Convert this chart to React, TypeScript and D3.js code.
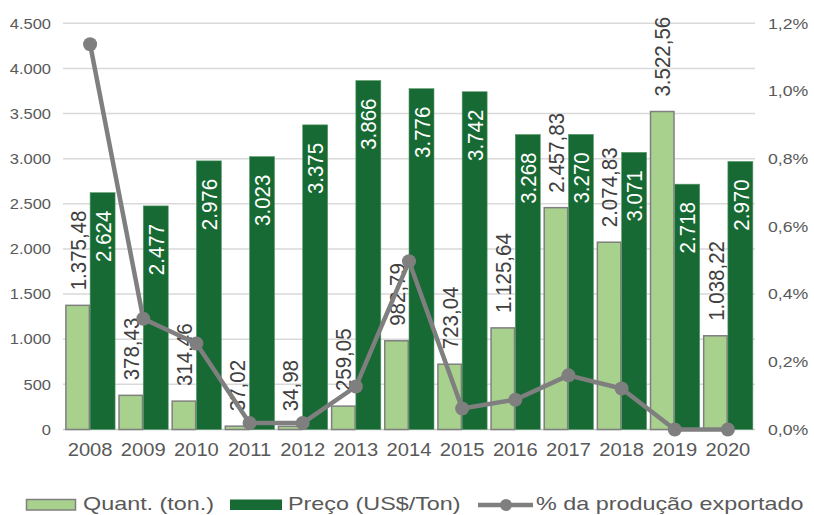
import React from "react";
import * as d3 from "d3";

const years = ["2008","2009","2010","2011","2012","2013","2014","2015","2016","2017","2018","2019","2020"];
const quantValues = [1375.48, 378.43, 314.46, 37.02, 34.98, 259.05, 982.79, 723.04, 1125.64, 2457.83, 2074.83, 3522.56, 1038.22];
const quantLabels = ["1.375,48","378,43","314,46","37,02","34,98","259,05","982,79","723,04","1.125,64","2.457,83","2.074,83","3.522,56","1.038,22"];
const priceValues = [2624, 2477, 2976, 3023, 3375, 3866, 3776, 3742, 3268, 3270, 3071, 2718, 2970];
const priceLabels = ["2.624","2.477","2.976","3.023","3.375","3.866","3.776","3.742","3.268","3.270","3.071","2.718","2.970"];
const pctValues = [1.138, 0.327, 0.254, 0.019, 0.019, 0.127, 0.497, 0.062, 0.088, 0.16, 0.121, 0.0, 0.0];
const leftTicks = [0, 500, 1000, 1500, 2000, 2500, 3000, 3500, 4000, 4500];
const rightTicks = [0, 0.2, 0.4, 0.6, 0.8, 1.0, 1.2];
const legendLabels = ["Quant. (ton.)", "Preço (US$/Ton)", "% da produção exportado"];

const W = 814, H = 515;
const M = { left: 63, right: 755, top: 23.3, bottom: 429.5 };
const LIGHT = "#a9d18e";
const DARK = "#176a33";
const GREY = "#7f7f7f";
const TXT = "#595959";
const FONT = "Liberation Sans, Arial, sans-serif";

const fmtLeft = (v: number) => d3.format(",")(v).replace(/,/g, ".");
const fmtRight = (v: number) => v.toFixed(1).replace(".", ",") + "%";

export default function App() {
  const x = d3.scaleBand<string>().domain(years).range([M.left, M.right]).paddingInner(0.06).paddingOuter(0.04);
  const bw = x.bandwidth() / 2;
  const yL = d3.scaleLinear().domain([0, 4500]).range([M.bottom, M.top]);
  const yR = d3.scaleLinear().domain([0, 1.2]).range([M.bottom, M.top]);
  const cx = (yr: string) => (x(yr) as number) + x.bandwidth() / 2;
  const line = d3.line<number>().x((_, i) => cx(years[i])).y((d) => yR(d));

  const sxTick = 1.1, sxRight = 1.18, sxX = 1.12, sxLab = 1.1, sxLeg = 1.23;

  return (
    <svg width={W} height={H} style={{ position: "absolute", left: 0, top: 0, background: "#fff" }} fontFamily={FONT}>
      {leftTicks.map((t) => (
        <line key={"g" + t} x1={M.left} x2={M.right} y1={yL(t)} y2={yL(t)} stroke={t === 0 ? "#c8c8c8" : "#d9d9d9"} strokeWidth={1.5} />
      ))}
      {leftTicks.map((t) => (
        <text key={"l" + t} transform={`translate(51,${yL(t)}) scale(${sxTick},1)`} textAnchor="end" dy="0.35em" fontSize={15} fill={TXT}>
          {fmtLeft(t)}
        </text>
      ))}
      {rightTicks.map((t) => (
        <text key={"r" + t} transform={`translate(768,${yR(t)}) scale(${sxRight},1)`} textAnchor="start" dy="0.35em" fontSize={15} fill={TXT}>
          {fmtRight(t)}
        </text>
      ))}
      {years.map((yr, i) => (
        <g key={"b" + yr}>
          <rect x={(x(yr) as number) + 0.75} y={yL(quantValues[i])} width={bw - 1.5} height={M.bottom - yL(quantValues[i])} fill={LIGHT} stroke={GREY} strokeWidth={1.5} />
          <rect x={(x(yr) as number) + bw} y={yL(priceValues[i])} width={bw} height={M.bottom - yL(priceValues[i])} fill={DARK} stroke="#5c9a6e" strokeWidth={0.6} />
        </g>
      ))}
      {years.map((yr, i) => {
        const lx = (x(yr) as number) + bw / 2;
        const dx = (x(yr) as number) + bw * 1.5;
        return (
          <g key={"lab" + yr}>
            <text transform={`translate(${lx},${yL(quantValues[i]) - 15}) scale(${sxLab},1) rotate(-90)`} textAnchor="start" dy="0.36em" fontSize={20.5} fill="#404040">
              {quantLabels[i]}
            </text>
            <text transform={`translate(${dx},${yL(priceValues[i]) + 18}) scale(${sxLab},1) rotate(-90)`} textAnchor="end" dy="0.36em" fontSize={20.5} fill="#ffffff">
              {priceLabels[i]}
            </text>
          </g>
        );
      })}
      <path d={line(pctValues) || ""} fill="none" stroke={GREY} strokeWidth={4.5} strokeLinejoin="round" />
      {pctValues.map((v, i) => (
        <circle key={"c" + i} cx={cx(years[i])} cy={yR(v)} r={7} fill={GREY} />
      ))}
      {years.map((yr) => (
        <text key={"x" + yr} transform={`translate(${cx(yr)},456) scale(${sxX},1)`} textAnchor="middle" fontSize={18} fill={TXT}>
          {yr}
        </text>
      ))}
      <rect x={26.5} y={499.5} width={49} height={10.5} fill={LIGHT} stroke={GREY} strokeWidth={1.5} />
      <text transform={`translate(83,509.5) scale(${sxLeg},1)`} fontSize={19} fill={TXT}>{legendLabels[0]}</text>
      <rect x={230} y={499.5} width={52} height={10.5} fill={DARK} />
      <text transform={`translate(288,509.5) scale(${sxLeg},1)`} fontSize={19} fill={TXT}>{legendLabels[1]}</text>
      <line x1={478} x2={533} y1={505} y2={505} stroke={GREY} strokeWidth={4.5} />
      <circle cx={506} cy={505} r={6} fill={GREY} />
      <text transform={`translate(536,509.5) scale(${sxLeg},1)`} fontSize={19} fill={TXT}>{legendLabels[2]}</text>
    </svg>
  );
}
